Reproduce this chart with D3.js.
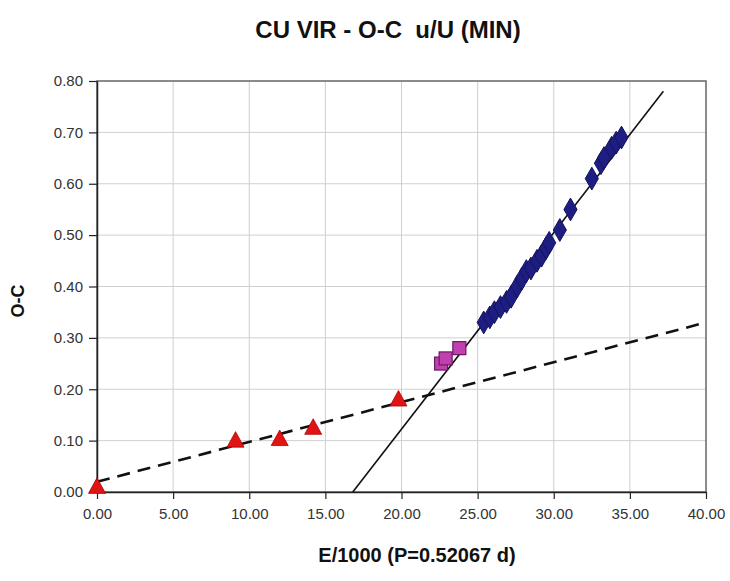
<!DOCTYPE html>
<html>
<head>
<meta charset="utf-8">
<script src="https://cdn.jsdelivr.net/npm/d3@7"></script>
<style>
  body { margin: 0; background: #fff; }
</style>
</head>
<body>
<div id="vis"></div>
<script>
var opts = {
  "width": 730,
  "height": 581,
  "left": 97,
  "right": 24,
  "top": 81,
  "bottom": 89
};

// data
var x_ticks = [0, 5, 10, 15, 20, 25, 30, 35, 40];
var y_ticks = [0, 0.1, 0.2, 0.3, 0.4, 0.5, 0.6, 0.7, 0.8];

var tri_x = [0.0, 9.1, 12.0, 14.2, 19.8];
var tri_y = [0.01, 0.10, 0.103, 0.125, 0.18];

var sq_x = [22.6, 22.9, 23.8];
var sq_y = [0.25, 0.26, 0.28];

var dia_x = [25.4, 25.8, 26.1, 26.5, 26.9, 27.2, 27.6, 27.9, 28.2, 28.5, 28.9, 29.2, 29.5, 29.7, 30.4, 31.1, 32.5, 33.1, 33.3, 33.8, 34.1, 34.45];
var dia_y = [0.33, 0.34, 0.35, 0.36, 0.37, 0.38, 0.40, 0.415, 0.43, 0.435, 0.45, 0.46, 0.475, 0.485, 0.51, 0.55, 0.61, 0.64, 0.65, 0.67, 0.68, 0.69];

// trend lines, endpoints
var dash_line = [[0, 0.02], [40, 0.33]];
var solid_line = [[16.8, 0.0], [37.2, 0.78]];

var svg = d3.select("#vis")
  .append("svg")
  .attr("width", opts.width)
  .attr("height", opts.height)
  .style("font-family", "'Liberation Sans', Arial, sans-serif");

var x = d3.scaleLinear().domain([0, 40]).range([opts.left, opts.width - opts.right]);
var y = d3.scaleLinear().domain([0, 0.8]).range([opts.height - opts.bottom, opts.top]);

// grid
svg.append("g")
  .selectAll("line")
  .data(x_ticks.slice(1, -1))
  .join("line")
  .attr("x1", function(d) { return x(d); })
  .attr("x2", function(d) { return x(d); })
  .attr("y1", y(0))
  .attr("y2", y(0.8))
  .attr("stroke", "#cfcfcf")
  .attr("stroke-width", 1);

svg.append("g")
  .selectAll("line")
  .data(y_ticks.slice(1, -1))
  .join("line")
  .attr("x1", x(0))
  .attr("x2", x(40))
  .attr("y1", function(d) { return y(d); })
  .attr("y2", function(d) { return y(d); })
  .attr("stroke", "#cfcfcf")
  .attr("stroke-width", 1);

// frame
svg.append("rect")
  .attr("x", x(0))
  .attr("y", y(0.8))
  .attr("width", x(40) - x(0))
  .attr("height", y(0) - y(0.8))
  .attr("fill", "none")
  .attr("stroke", "#666")
  .attr("stroke-width", 1.5);

// axes
var xAxis = svg.append("g")
  .attr("transform", "translate(0," + y(0) + ")")
  .call(d3.axisBottom(x).tickValues(x_ticks).tickSize(7).tickSizeOuter(0)
    .tickFormat(d3.format(".2f")));

var yAxis = svg.append("g")
  .attr("transform", "translate(" + x(0) + ",0)")
  .call(d3.axisLeft(y).tickValues(y_ticks).tickSize(8).tickSizeOuter(0)
    .tickFormat(d3.format(".2f")));

[xAxis, yAxis].forEach(function(a) {
  a.select(".domain").attr("stroke", "#222").attr("stroke-width", 1.5);
  a.selectAll(".tick line").attr("stroke", "#222").attr("stroke-width", 1.2);
  a.selectAll(".tick text")
    .attr("fill", "#333")
    .style("font-size", "15px")
    .style("font-family", "'Liberation Sans', Arial, sans-serif");
});
xAxis.selectAll(".tick text").attr("y", 12).attr("dy", "1em");
yAxis.selectAll(".tick text").attr("x", -14);

// lines
var line = d3.line()
  .x(function(d) { return x(d[0]); })
  .y(function(d) { return y(d[1]); });

svg.append("path")
  .datum(dash_line)
  .attr("d", line)
  .attr("fill", "none")
  .attr("stroke", "#111")
  .attr("stroke-width", 2.6)
  .attr("stroke-dasharray", "13,8");

svg.append("path")
  .datum(solid_line)
  .attr("d", line)
  .attr("fill", "none")
  .attr("stroke", "#111")
  .attr("stroke-width", 1.6);

// markers
var tri = d3.range(tri_x.length).map(function(i) { return [tri_x[i], tri_y[i]]; });
var sq = d3.range(sq_x.length).map(function(i) { return [sq_x[i], sq_y[i]]; });
var dia = d3.range(dia_x.length).map(function(i) { return [dia_x[i], dia_y[i]]; });

svg.append("g")
  .selectAll("path")
  .data(tri)
  .join("path")
  .attr("d", "M0,-9 L8.5,6.5 L-8.5,6.5 Z")
  .attr("transform", function(d) { return "translate(" + x(d[0]) + "," + y(d[1]) + ")"; })
  .attr("fill", "#e01414")
  .attr("stroke", "#b00000")
  .attr("stroke-width", 0.8);

svg.append("g")
  .selectAll("rect")
  .data(sq)
  .join("rect")
  .attr("x", function(d) { return x(d[0]) - 6.5; })
  .attr("y", function(d) { return y(d[1]) - 6.5; })
  .attr("width", 13)
  .attr("height", 13)
  .attr("fill", "#c040b0")
  .attr("stroke", "#6a1a60")
  .attr("stroke-width", 1.2);

svg.append("g")
  .selectAll("path")
  .data(dia)
  .join("path")
  .attr("d", d3.symbol().type(d3.symbolDiamond).size(150))
  .attr("transform", function(d) { return "translate(" + x(d[0]) + "," + y(d[1]) + ")"; })
  .attr("fill", "#1e1e82")
  .attr("stroke", "#141460")
  .attr("stroke-width", 1);

// titles
svg.append("text")
  .attr("x", 388)
  .attr("y", 38)
  .attr("text-anchor", "middle")
  .style("white-space", "pre")
  .style("font-family", "'Liberation Sans Narrow', 'Arial Narrow', 'Liberation Sans', sans-serif")
  .style("font-stretch", "condensed")
  .style("font-weight", "bold")
  .style("font-size", "24px")
  .attr("fill", "#111")
  .text("CU VIR - O-C  u/U (MIN)");

svg.append("text")
  .attr("x", 417)
  .attr("y", 562)
  .attr("text-anchor", "middle")
  .style("font-weight", "bold")
  .style("font-size", "20px")
  .attr("fill", "#111")
  .text("E/1000 (P=0.52067 d)");

svg.append("text")
  .attr("transform", "translate(24,301) rotate(-90)")
  .attr("text-anchor", "middle")
  .style("font-weight", "bold")
  .style("font-size", "18px")
  .attr("fill", "#111")
  .text("O-C");
</script>
</body>
</html>
